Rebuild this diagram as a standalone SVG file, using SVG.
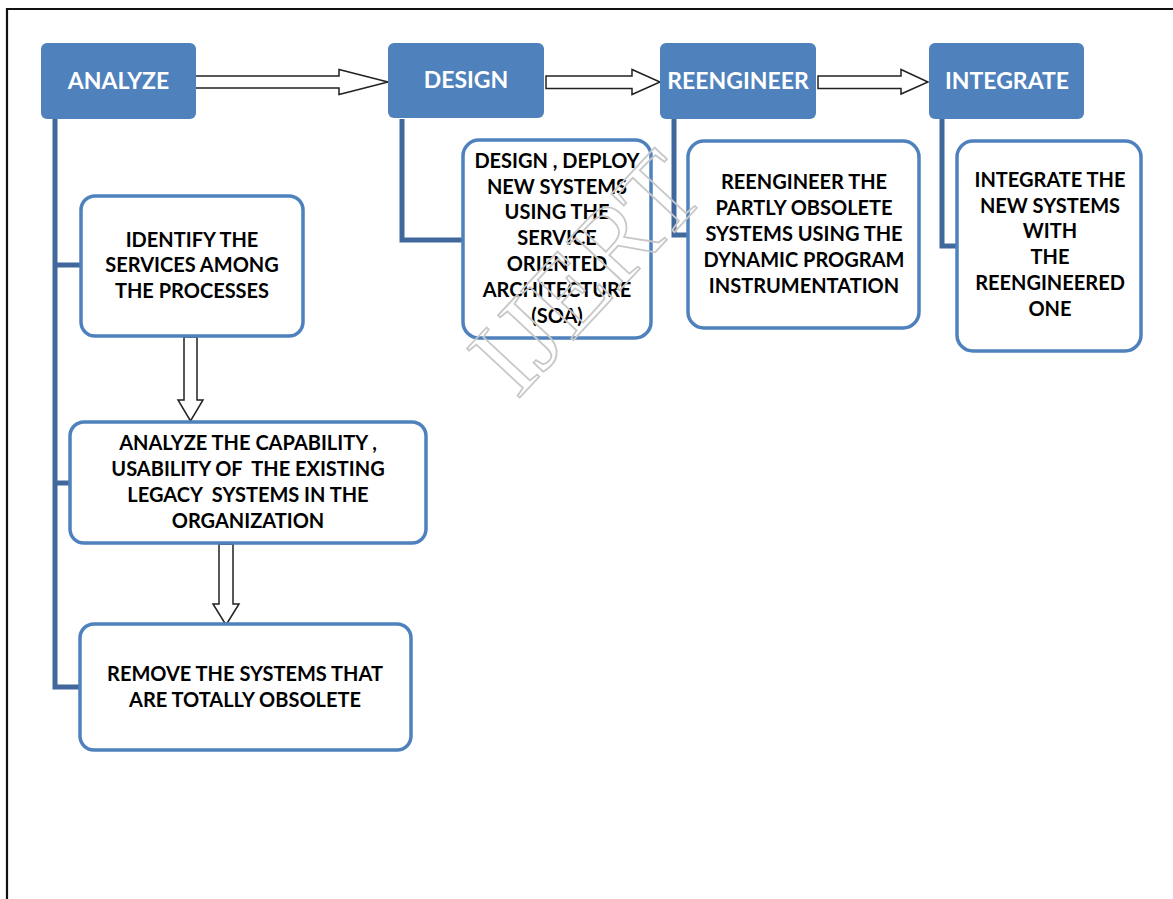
<svg xmlns="http://www.w3.org/2000/svg" width="1173" height="899" viewBox="0 0 1173 899">
<style>
.hdr{fill:#4F81BD}
.hdrt{font-family:Lato,"Liberation Sans",sans-serif;font-weight:bold;font-size:23px;fill:#fff;text-anchor:middle}
.box{fill:#fff;stroke:#4F81BD;stroke-width:3.5}
.bt{font-family:Lato,"Liberation Sans",sans-serif;font-weight:bold;font-size:20px;fill:#000;text-anchor:middle;white-space:pre}
.con{fill:none;stroke:#41689C;stroke-width:5}
.arr{fill:#fff;stroke:#222;stroke-width:1.5;stroke-linejoin:miter}
.wm{font-family:"Liberation Serif",serif;font-size:110px;fill:none;stroke:#c8c8c8;stroke-width:1.8;text-anchor:middle}
</style>
<rect width="1173" height="899" fill="#fff"/>
<path d="M7,899 V9 H1173" fill="none" stroke="#111" stroke-width="2.2"/>

<g id="connectors">
<path class="con" d="M55,119 V687 H80 M55,265 H81 M55,483 H70"/>
<path class="con" d="M402,119 V240 H463"/>
<path class="con" d="M674,119 V235 H688"/>
<path class="con" d="M942,119 V246 H957"/>
<polygon class="arr" points="194,76 339,76 339,69.5 388,82 339,94.5 339,88 194,88"/>
<polygon class="arr" points="546,76 632,76 632,69.5 660,82 632,94.5 632,88.5 546,88.5"/>
<polygon class="arr" points="818,76 901,76 901,69.5 928,82 901,94 901,88.5 818,88.5"/>
<polygon class="arr" points="184,337 197,337 197,400 203,400 190.5,421 178,400 184,400"/>
<polygon class="arr" points="219,544 233,544 233,604 239,604 226,625 213,604 219,604"/>
</g>

<g id="analyze"><rect class="hdr" x="41" y="43" width="155" height="76" rx="6"/><text class="hdrt" x="118.5" y="89">ANALYZE</text></g>
<g id="design"><rect class="hdr" x="388" y="43" width="156" height="75" rx="6"/><text class="hdrt" x="466" y="88">DESIGN</text></g>
<g id="reengineer"><rect class="hdr" x="660" y="43" width="156" height="76" rx="6"/><text class="hdrt" x="738" y="89">REENGINEER</text></g>
<g id="integrate"><rect class="hdr" x="929" y="43" width="155" height="76" rx="6"/><text class="hdrt" x="1007" y="89">INTEGRATE</text></g>

<g id="identify"><rect class="box" x="81" y="196" width="222" height="140" rx="14"/>
<text class="bt" x="192" y="247">IDENTIFY THE</text>
<text class="bt" x="192" y="272">SERVICES AMONG</text>
<text class="bt" x="192" y="298">THE PROCESSES</text></g>

<g id="analyze-capability"><rect class="box" x="70" y="422" width="356" height="121" rx="14"/>
<text class="bt" x="248" y="450">ANALYZE THE CAPABILITY ,</text>
<text class="bt" x="248" y="476">USABILITY OF  THE EXISTING</text>
<text class="bt" x="248" y="502">LEGACY  SYSTEMS IN THE</text>
<text class="bt" x="248" y="528">ORGANIZATION</text></g>

<g id="remove"><rect class="box" x="80" y="624" width="331" height="126" rx="14"/>
<text class="bt" x="245" y="681">REMOVE THE SYSTEMS THAT</text>
<text class="bt" x="245" y="707">ARE TOTALLY OBSOLETE</text></g>

<g id="design-detail"><rect class="box" x="463" y="140" width="188" height="198" rx="16"/>
<text class="bt" x="557" y="168">DESIGN , DEPLOY</text>
<text class="bt" x="557" y="194">NEW SYSTEMS</text>
<text class="bt" x="557" y="219">USING THE</text>
<text class="bt" x="557" y="245">SERVICE</text>
<text class="bt" x="557" y="271">ORIENTED</text>
<text class="bt" x="557" y="297">ARCHITECTURE</text>
<text class="bt" x="557" y="323">(SOA)</text></g>

<g id="reengineer-detail"><rect class="box" x="688" y="141" width="231" height="187" rx="16"/>
<text class="bt" x="804" y="189">REENGINEER THE</text>
<text class="bt" x="804" y="215">PARTLY OBSOLETE</text>
<text class="bt" x="804" y="241">SYSTEMS USING THE</text>
<text class="bt" x="804" y="267">DYNAMIC PROGRAM</text>
<text class="bt" x="804" y="293">INSTRUMENTATION</text></g>

<g id="integrate-detail"><rect class="box" x="957" y="141" width="184" height="210" rx="16"/>
<text class="bt" x="1050" y="187">INTEGRATE THE</text>
<text class="bt" x="1050" y="213">NEW SYSTEMS</text>
<text class="bt" x="1050" y="238">WITH</text>
<text class="bt" x="1050" y="264">THE</text>
<text class="bt" x="1050" y="290">REENGINEERED</text>
<text class="bt" x="1050" y="316">ONE</text></g>

<text class="wm" transform="translate(585,272) rotate(-47)" y="38">IJERT</text>
</svg>
